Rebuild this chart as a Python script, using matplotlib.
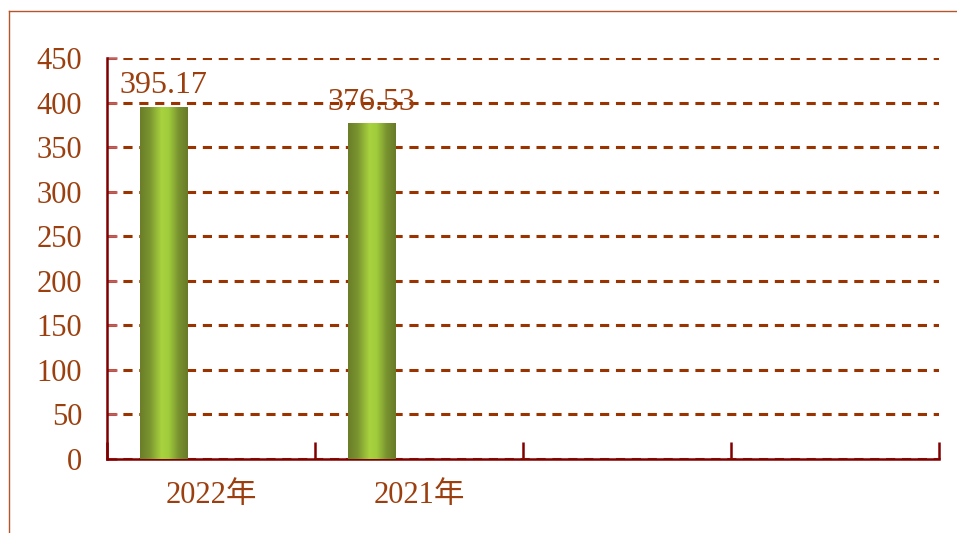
import matplotlib.pyplot as plt
import numpy as np
from matplotlib.colors import LinearSegmentedColormap
from matplotlib.lines import Line2D

# data
categories = ['2022年', '2021年', '', '']
values = [395.17, 376.53]
labels = ['395.17', '376.53']
yticks = [0, 50, 100, 150, 200, 250, 300, 350, 400, 450]

txt_col = '#9c3f0f'
grid_col = '#993300'
axis_col = '#800000'

plt.rcParams['font.family'] = ['Liberation Serif', 'Noto Sans CJK SC']

fig = plt.figure(figsize=(9.57, 5.33), dpi=100)
ax = fig.add_axes([107/957, 1-459/533, (939-107)/957, (459-58)/533])

# outer frame (top and left edges visible)
fig.add_artist(Line2D([9/957, 1], [1-11/533, 1-11/533], color='#b5562a', lw=1))
fig.add_artist(Line2D([9/957, 9/957], [0, 1-11/533], color='#b5562a', lw=1))

offset = -0.228
width = 0.226
x = np.arange(len(values)) + offset
bars = ax.bar(x, values, width=width, color='none', zorder=3)

# horizontal gradient fill for bars
cmap = LinearSegmentedColormap.from_list('g', [
    (0.0, '#6a7d28'), (0.2, '#7a9430'), (0.45, '#a8d33f'),
    (0.6, '#a0cc3c'), (0.8, '#7a9430'), (1.0, '#687a27')])
grad = np.linspace(0, 1, 256).reshape(1, -1)
for b in bars:
    x0, y0 = b.get_x(), b.get_y()
    im = ax.imshow(grad, cmap=cmap, aspect='auto', zorder=3,
                   extent=[x0, x0 + b.get_width(), y0, y0 + b.get_height()])
    im.set_clip_path(b)

for xi, v, lab in zip(x, values, labels):
    ax.annotate(lab, (xi, v), xytext=(0, 5), textcoords='offset points',
                ha='center', va='bottom', fontsize=23, color=txt_col, zorder=4)

ax.set_xlim(-0.5, 3.5)
ax.set_ylim(0, 450)
ax.set_yticks(yticks)
ax.set_xticks(range(len(categories)))
ax.set_xticklabels(categories)
ax.set_xticks(np.arange(-0.5, 4, 1), minor=True)

ax.tick_params(axis='x', which='major', length=0, pad=16, labelsize=22, labelcolor=txt_col)
ax.tick_params(axis='x', which='minor', direction='in', length=12, width=1.8, color=axis_col)
ax.tick_params(axis='y', direction='in', length=7, width=1.8, color='#c06060',
               pad=18, labelsize=22, labelcolor=txt_col)

ax.yaxis.grid(True, color=grid_col, linestyle=(0, (3, 2.2)), lw=2.2, zorder=1)
ax.set_axisbelow(True)

for s in ['top', 'right']:
    ax.spines[s].set_visible(False)
ax.spines['left'].set_color(axis_col)
ax.spines['bottom'].set_color(axis_col)
ax.spines['left'].set_linewidth(1.8)
ax.spines['bottom'].set_linewidth(1.8)

fig.savefig('out.png', dpi=100)
